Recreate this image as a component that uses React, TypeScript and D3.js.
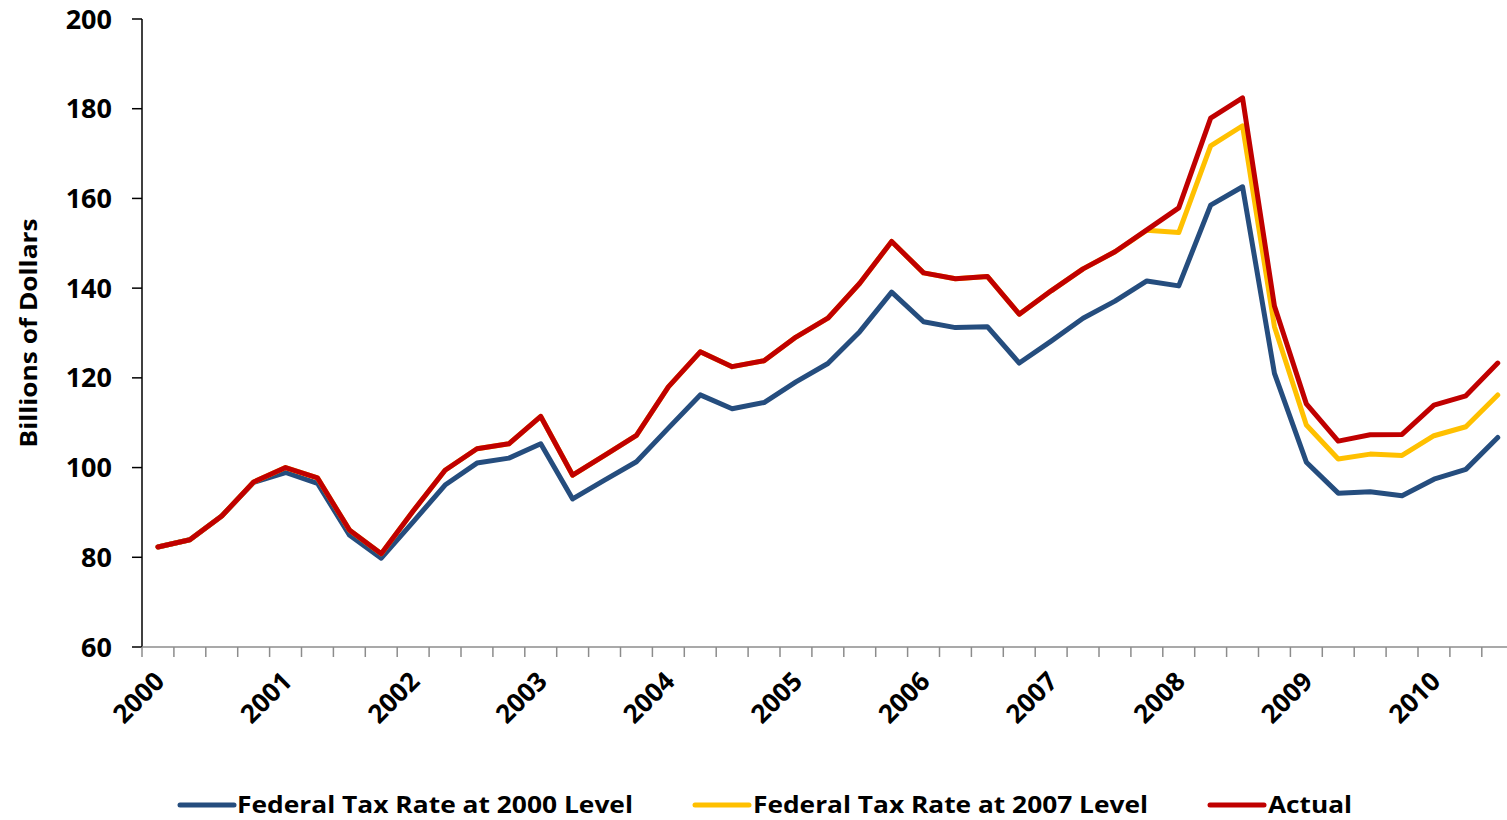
import React, { useEffect } from 'react';
import * as d3 from 'd3';

// quarterly, 2000 Q1 .. 2010 Q3
const years = ['2000', '2001', '2002', '2003', '2004', '2005', '2006', '2007', '2008', '2009', '2010'];
const quarters = years.flatMap(y => ['Q1', 'Q2', 'Q3', 'Q4'].map(q => `${y} ${q}`)).slice(0, 43);

const rate2000 = [
  82.3, 83.9, 89.2, 96.7, 98.9, 96.5, 85.0, 79.8, 87.9, 96.1,
  101.0, 102.1, 105.3, 93.0, 97.2, 101.3, 108.8, 116.2, 113.1, 114.5,
  119.1, 123.2, 130.3, 139.1, 132.5, 131.2, 131.4, 123.3, 128.2, 133.3,
  137.1, 141.6, 140.5, 158.5, 162.6, 121.0, 101.2, 94.3, 94.6, 93.7,
  97.4, 99.6, 106.7,
];
const rate2007 = [
  82.3, 83.9, 89.2, 96.8, 100.0, 97.7, 86.1, 80.8, 90.3, 99.4,
  104.2, 105.3, 111.4, 98.3, 102.7, 107.2, 118.0, 125.8, 122.5, 123.8,
  129.1, 133.3, 141.1, 150.4, 143.4, 142.1, 142.6, 134.2, 139.4, 144.3,
  148.1, 152.9, 152.4, 171.7, 176.2, 131.4, 109.5, 101.9, 103.0, 102.7,
  107.1, 109.1, 116.2,
];
const actual = [
  82.3, 83.9, 89.2, 96.8, 100.0, 97.7, 86.1, 80.8, 90.3, 99.4,
  104.2, 105.3, 111.4, 98.3, 102.7, 107.2, 118.0, 125.8, 122.5, 123.8,
  129.1, 133.3, 141.1, 150.4, 143.4, 142.1, 142.6, 134.2, 139.4, 144.3,
  148.1, 153.0, 157.9, 177.9, 182.4, 136.0, 114.2, 105.9, 107.3, 107.4,
  113.9, 116.0, 123.3,
];
const yTicks = [60, 80, 100, 120, 140, 160, 180, 200];

const series = [
  { name: 'Federal Tax Rate at 2000 Level', values: rate2000, color: '#254D7E' },
  { name: 'Federal Tax Rate at 2007 Level', values: rate2007, color: '#FFC000' },
  { name: 'Actual', values: actual, color: '#C00000' },
];

const font = "'Open Sans', 'DejaVu Sans', sans-serif";

export default function App() {
  useEffect(() => {
    document.body.style.margin = '0';
  }, []);

  const left = 142;
  const bandW = 31.9;
  const x = d3.scaleBand<string>()
    .domain(quarters)
    .range([left, left + bandW * quarters.length]);
  const y = d3.scaleLinear().domain([60, 200]).range([647, 19]);
  const cx = (i: number) => (x(quarters[i]) as number) + x.bandwidth() / 2;

  const line = d3.line<number>()
    .x((_, i) => cx(i))
    .y(d => y(d));

  // legend placement
  const legend = [
    { sx: 180, tx: 237, w: 396 },
    { sx: 695, tx: 753, w: 395 },
    { sx: 1210, tx: 1268, w: 84 },
  ];

  return (
    <svg width={1507} height={820} style={{ display: 'block' }} fontFamily={font}>
      {/* y axis */}
      <line x1={left} x2={left} y1={y(200)} y2={y(60)} stroke="#000" strokeWidth={1.5} />
      {yTicks.map(t => (
        <g key={t}>
          <line x1={132} x2={left} y1={y(t)} y2={y(t)} stroke="#000" strokeWidth={1.5} />
          <text x={112} y={y(t) + 9.5} textAnchor="end" fontSize={27} fontWeight="bold" fill="#000">{t}</text>
        </g>
      ))}
      <text transform="translate(37,333) rotate(-90)" textAnchor="middle" fontSize={23} fontWeight="bold"
        textLength={229} lengthAdjust="spacingAndGlyphs" fill="#000">Billions of Dollars</text>

      {/* x axis */}
      <line x1={left} x2={1514} y1={647} y2={647} stroke="#8C8C8C" strokeWidth={1.5} />
      {quarters.map(q => (
        <line key={q} x1={x(q)} x2={x(q)} y1={647} y2={657} stroke="#8C8C8C" strokeWidth={1.5} />
      ))}
      {quarters.map((q, i) => i % 4 === 0 ? (
        <text key={'l' + q} transform={`translate(${cx(i) + 8},${683}) rotate(-45)`} textAnchor="end"
          fontSize={26} fontWeight="bold" fill="#000">{years[i / 4]}</text>
      ) : null)}

      {/* lines */}
      {series.map(s => (
        <path key={s.name} d={line(s.values) as string} fill="none" stroke={s.color} strokeWidth={5}
          strokeLinejoin="round" strokeLinecap="round" />
      ))}

      {/* legend */}
      {series.map((s, i) => (
        <g key={'lg' + s.name}>
          <line x1={legend[i].sx} x2={legend[i].sx + 54} y1={805} y2={805} stroke={s.color} strokeWidth={5} strokeLinecap="round" />
          <text x={legend[i].tx} y={813} fontSize={23} fontWeight="bold" fill="#000"
            textLength={legend[i].w} lengthAdjust="spacingAndGlyphs">{s.name}</text>
        </g>
      ))}
    </svg>
  );
}
